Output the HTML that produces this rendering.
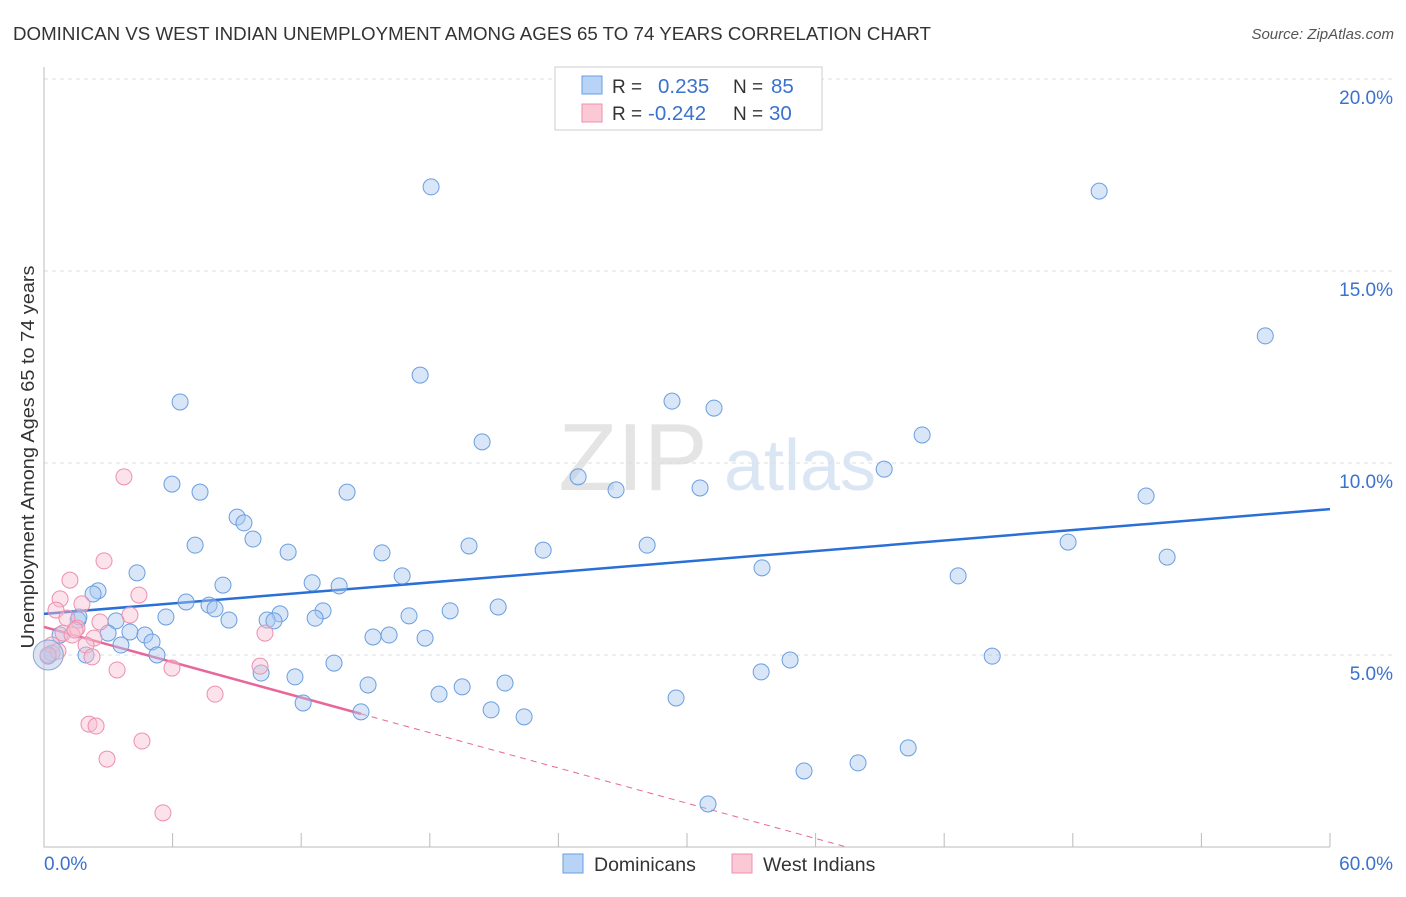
<!DOCTYPE html>
<html><head><meta charset="utf-8"><style>
body{margin:0;background:#fff;font-family:"Liberation Sans",sans-serif;}
svg text{font-family:"Liberation Sans",sans-serif;}
</style></head><body>
<svg id="chart" width="1406" height="892" xmlns="http://www.w3.org/2000/svg">
<text x="13" y="40" font-size="18" fill="#333" textLength="918" lengthAdjust="spacingAndGlyphs">DOMINICAN VS WEST INDIAN UNEMPLOYMENT AMONG AGES 65 TO 74 YEARS CORRELATION CHART</text>
<text x="1394" y="39" font-size="15" fill="#555" font-style="italic" text-anchor="end">Source: ZipAtlas.com</text>
<text x="633" y="490" font-size="96" fill="#e4e4e4" font-family="Liberation Serif" text-anchor="middle">ZIP</text>
<text x="800" y="490" font-size="72" fill="#dbe6f5" text-anchor="middle">atlas</text>
<text transform="translate(34,457) rotate(-90)" font-size="18" fill="#333" text-anchor="middle" textLength="383" lengthAdjust="spacingAndGlyphs">Unemployment Among Ages 65 to 74 years</text>
<g id="grid"></g><g id="axes"></g><g id="lines"></g><g id="pts"></g>
<g>
<rect x="555" y="67" width="267" height="63" fill="#fff" stroke="#ccc"/>
<rect x="582" y="76" width="20" height="18" fill="#b8d3f5" stroke="#6a9ee0"/>
<rect x="582" y="104" width="20" height="18" fill="#fbc8d6" stroke="#ec8fae"/>
<text x="612" y="93" font-size="19" fill="#333">R =</text><text x="658" y="93" font-size="20.5" fill="#3a72cc">0.235</text>
<text x="733" y="93" font-size="19" fill="#333">N =</text><text x="771" y="93" font-size="20.5" fill="#3a72cc">85</text>
<text x="612" y="120" font-size="19" fill="#333">R =</text><text x="648" y="120" font-size="20.5" fill="#3a72cc">-0.242</text>
<text x="733" y="120" font-size="19" fill="#333">N =</text><text x="769" y="120" font-size="20.5" fill="#3a72cc">30</text>
</g>
<g>
<rect x="563" y="854" width="20" height="19" fill="#b8d3f5" stroke="#6a9ee0"/>
<text x="594" y="871" font-size="19.5" fill="#333">Dominicans</text>
<rect x="732" y="854" width="20" height="19" fill="#fbc8d6" stroke="#ec8fae"/>
<text x="763" y="871" font-size="19.5" fill="#333">West Indians</text>
</g>
</svg>
<script>
const yTicks=[5,10,15,20];
const yTickLabels=["5.0%","10.0%","15.0%","20.0%"];
const xTicks=[0,6,12,18,24,30,36,42,48,54,60];
const domX=[18.06,49.23,56.98,17.55,6.35,29.3,31.26,20.44,40.97,39.2,24.92,5.97,7.28,14.14,26.69,30.61,51.42,9.01,9.33,9.75,7.05,19.83,23.29,28.14,11.39,15.77,47.78,52.4,33.5,4.34,16.71,42.65,8.35,12.51,13.77,2.52,2.29,6.63,7.7,7.98,5.69,11.01,13.02,18.95,21.19,17.03,8.63,10.41,10.73,12.65,3.36,1.59,2.99,4.01,4.71,15.35,16.1,17.78,5.04,3.59,0.75,5.27,1.96,0.37,0.19,44.24,34.81,13.53,10.13,33.46,11.71,15.12,19.51,21.51,18.43,29.49,12.09,20.86,22.4,14.79,40.32,37.98,35.46,30.98,1.63];
const domY=[17.19,17.08,13.31,12.29,11.59,11.61,11.43,10.55,10.73,9.84,9.64,9.45,9.24,9.24,9.3,9.35,9.14,8.59,8.44,8.02,7.86,7.84,7.73,7.86,7.68,7.66,7.94,7.55,7.27,7.14,7.06,7.06,6.82,6.88,6.8,6.67,6.59,6.38,6.3,6.2,5.99,6.07,6.15,6.15,6.25,6.02,5.91,5.91,5.89,5.96,5.89,5.91,5.57,5.6,5.52,5.47,5.52,5.44,5.34,5.26,5.52,5.0,5.0,5.05,4.97,4.97,4.87,4.79,4.53,4.56,4.43,4.22,4.17,4.27,3.98,3.88,3.75,3.57,3.39,3.52,2.58,2.19,1.98,1.12,5.99];
const wiX=[3.73,2.8,1.21,4.43,0.75,4.01,0.56,1.77,2.61,1.07,1.54,0.89,1.31,2.33,1.96,10.31,2.24,3.41,5.97,10.08,7.98,2.1,2.43,4.57,2.94,5.55,0.37,0.65,0.19,1.45];
const wiY=[9.64,7.45,6.95,6.56,6.46,6.04,6.17,6.33,5.86,5.96,5.7,5.57,5.52,5.44,5.26,5.57,4.95,4.61,4.66,4.71,3.98,3.2,3.15,2.76,2.29,0.89,5.26,5.1,5.0,5.65];
const domLine=[6.07,8.8];
const wiLine=[5.73,-0.153];
const X=v=>44+v*(1286/60), Y=v=>847-v*38.4;
const NS="http://www.w3.org/2000/svg";
function mk(p,t,a){const e=document.createElementNS(NS,t);for(const k in a)e.setAttribute(k,a[k]);document.getElementById(p).appendChild(e);return e;}
yTicks.forEach((t,i)=>{
 const l=mk('grid','line',{x1:44,x2:1394,y1:Y(t),y2:Y(t),stroke:'#ddd','stroke-dasharray':'4,4'});
 
 
 const tx=mk('grid','text',{x:1393,y:Y(t)+25,'font-size':19,fill:'#3a72cc','text-anchor':'end'});tx.textContent=yTickLabels[i];
 
 
});
const ax=mk('axes','path',{d:'M44,67V847H1330',stroke:'#bbb',fill:'none'});


xTicks.forEach(t=>{const l=mk('axes','line',{x1:X(t),x2:X(t),y1:833,y2:847,stroke:'#bbb'});
 
 });
const x0=mk('axes','text',{x:44,y:870,'font-size':19,fill:'#3a72cc'});x0.textContent='0.0%';


const x1=mk('axes','text',{x:1393,y:870,'font-size':19,fill:'#3a72cc','text-anchor':'end'});x1.textContent='60.0%';


function pts(xs,ys,fill,stroke,name){xs.forEach((x,i)=>{const c=mk('pts','circle',{cx:X(x),cy:Y(ys[i]),r:8,fill:fill,'fill-opacity':0.45,stroke:stroke,'stroke-width':1});
 
 });}
pts(domX,domY,'#a9c8f0','#6a9ee0','dominican-point');
pts(wiX,wiY,'#f8bfd0','#ec8fae','west-indian-point');
const big=mk('pts','circle',{cx:X(0.2),cy:Y(5.0),r:15,fill:'#b8c8e8','fill-opacity':0.5,stroke:'#8aa6d8'});


const bl=mk('lines','line',{x1:X(0),y1:Y(domLine[0]),x2:X(60),y2:Y(domLine[1]),stroke:'#2a6fd6','stroke-width':2.5});


const xe=14.79, xz=-wiLine[0]/wiLine[1];
const pl=mk('lines','line',{x1:X(0),y1:Y(wiLine[0]),x2:X(xe),y2:Y(wiLine[0]+wiLine[1]*xe),stroke:'#e8679a','stroke-width':2.5});


const pd=mk('lines','line',{x1:X(xe),y1:Y(wiLine[0]+wiLine[1]*xe),x2:X(xz),y2:Y(0),stroke:'#e8679a','stroke-width':1,'stroke-dasharray':'6,5'});


</script>
</body></html>
